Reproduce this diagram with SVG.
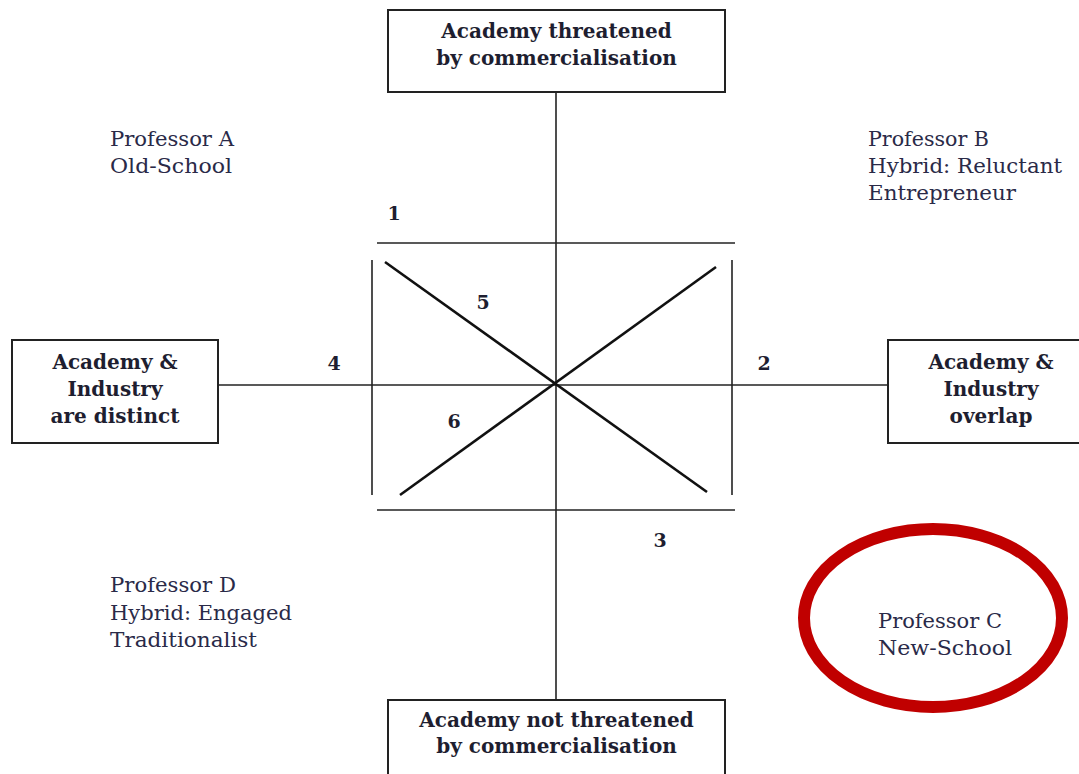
<svg xmlns="http://www.w3.org/2000/svg" width="1079" height="774" viewBox="0 0 1079 774">
<style>
.box{fill:#fff;stroke:#222;stroke-width:2}
.ax{stroke:#222;stroke-width:1.6;fill:none}
.dg{stroke:#111;stroke-width:2.6;fill:none}
.bt{font-family:"DejaVu Serif",serif;font-weight:bold;font-size:20px;fill:#1e1e30;text-anchor:middle}
.pt{font-family:"DejaVu Serif",serif;font-size:20.5px;fill:#2a2a48}
.nm{font-family:"DejaVu Serif",serif;font-weight:bold;font-size:19px;fill:#1e1e30;text-anchor:middle}
</style>
<rect width="1079" height="774" fill="#fff"/>
<g id="connectors">
<line class="ax" x1="556" y1="92" x2="556" y2="700"/>
<line class="ax" x1="218" y1="385" x2="888" y2="385"/>
<line class="ax" x1="377" y1="243" x2="735" y2="243"/>
<line class="ax" x1="377" y1="510" x2="735" y2="510"/>
<line class="ax" x1="372" y1="260" x2="372" y2="495"/>
<line class="ax" x1="732" y1="260" x2="732" y2="495"/>
<line class="dg" x1="385" y1="262" x2="707" y2="492"/>
<line class="dg" x1="716" y1="267" x2="400" y2="495"/>
</g>
<g id="labels">
<text class="nm" x="394" y="220">1</text>
<text class="nm" x="764" y="370">2</text>
<text class="nm" x="660" y="547">3</text>
<text class="nm" x="334" y="370">4</text>
<text class="nm" x="483" y="309">5</text>
<text class="nm" x="454" y="428">6</text>
</g>
<g id="top">
<rect class="box" x="388" y="10" width="337" height="82"/>
<text class="bt" x="556.5" y="38">Academy threatened</text>
<text class="bt" x="556.5" y="65">by commercialisation</text>
</g>
<g id="left">
<rect class="box" x="12" y="340" width="206" height="103"/>
<text class="bt" x="115" y="369">Academy &amp;</text>
<text class="bt" x="115" y="396">Industry</text>
<text class="bt" x="115" y="423">are distinct</text>
</g>
<g id="right">
<rect class="box" x="888" y="340" width="200" height="103"/>
<text class="bt" x="991" y="369">Academy &amp;</text>
<text class="bt" x="991" y="396">Industry</text>
<text class="bt" x="991" y="423">overlap</text>
</g>
<g id="bottom">
<rect class="box" x="388" y="700" width="337" height="82"/>
<text class="bt" x="556.5" y="727">Academy not threatened</text>
<text class="bt" x="556.5" y="753">by commercialisation</text>
</g>
<g id="profA">
<text class="pt" x="110" y="146" textLength="124" lengthAdjust="spacingAndGlyphs">Professor A</text>
<text class="pt" x="110" y="173" textLength="122" lengthAdjust="spacingAndGlyphs">Old-School</text>
</g>
<g id="profB">
<text class="pt" x="868" y="146" textLength="121" lengthAdjust="spacingAndGlyphs">Professor B</text>
<text class="pt" x="868" y="173" textLength="194" lengthAdjust="spacingAndGlyphs">Hybrid: Reluctant</text>
<text class="pt" x="868" y="200" textLength="148" lengthAdjust="spacingAndGlyphs">Entrepreneur</text>
</g>
<g id="profD">
<text class="pt" x="110" y="592" textLength="126" lengthAdjust="spacingAndGlyphs">Professor D</text>
<text class="pt" x="110" y="620" textLength="182" lengthAdjust="spacingAndGlyphs">Hybrid: Engaged</text>
<text class="pt" x="110" y="647" textLength="147" lengthAdjust="spacingAndGlyphs">Traditionalist</text>
</g>
<g id="profC">
<ellipse cx="933" cy="618" rx="129" ry="89" fill="none" stroke="#c00000" stroke-width="12"/>
<text class="pt" x="878" y="628" textLength="124" lengthAdjust="spacingAndGlyphs">Professor C</text>
<text class="pt" x="878" y="655" textLength="134" lengthAdjust="spacingAndGlyphs">New-School</text>
</g>
</svg>
